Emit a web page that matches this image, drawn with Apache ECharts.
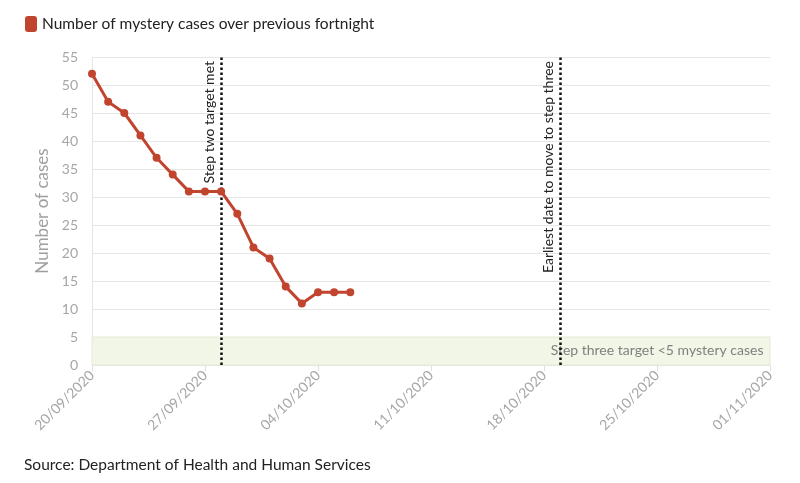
<!DOCTYPE html>
<html>
<head>
<meta charset="utf-8">
<script src="https://cdn.jsdelivr.net/npm/echarts@6/dist/echarts.min.js"></script>
<style>
  html, body { margin: 0; padding: 0; background: #fff; }
  #chart { width: 800px; height: 483px; }
</style>
</head>
<body>
<div id="chart"></div>
<script>
// day-by-day categories 20/09/2020 .. 01/11/2020
const startDate = new Date(2020, 8, 20)
const dayCount = 43
const dates = []
for (let i = 0; i < dayCount; i++) {
  const d = new Date(startDate.getFullYear(), startDate.getMonth(), startDate.getDate() + i)
  const dd = String(d.getDate()).padStart(2, '0')
  const mm = String(d.getMonth() + 1).padStart(2, '0')
  dates.push(dd + '/' + mm + '/' + d.getFullYear())
}

const seriesName = 'Number of mystery cases over previous fortnight'
const mysteryCases = [52, 47, 45, 41, 37, 34, 31, 31, 31, 27, 21, 19, 14, 11, 13, 13, 13]

const stepTwoDate = '28/09/2020'
const stepThreeDate = '19/10/2020'
const targetBand = [0, 5]

const yTicks = { min: 0, max: 55, interval: 5 }

const font = 'Lato, "Open Sans", sans-serif'
const red = '#c1442f'

const chart = echarts.init(document.getElementById('chart'))

chart.setOption({
  animation: false,
  textStyle: { fontFamily: font },
  legend: {
    data: [{ name: seriesName, icon: 'roundRect' }],
    left: 20,
    top: 11,
    itemWidth: 12,
    itemHeight: 16,
    itemGap: 6,
    textStyle: { fontSize: 15.5, color: '#222', fontFamily: font }
  },
  graphic: [
    {
      type: 'text',
      left: 24,
      top: 457,
      style: {
        text: 'Source: Department of Health and Human Services',
        fontSize: 15.5,
        fill: '#222',
        fontFamily: font
      }
    }
  ],
  grid: {
    left: 92,
    right: 30,
    top: 57,
    bottom: 118
  },
  xAxis: {
    type: 'category',
    data: dates,
    boundaryGap: false,
    axisLine: { lineStyle: { color: '#e6e6e6' } },
    axisTick: {
      interval: 6,
      length: 6,
      lineStyle: { color: '#e0e0e0' }
    },
    axisLabel: {
      interval: 6,
      rotate: 45,
      color: '#a6a6a6',
      fontSize: 14,
      margin: 8
    },
    splitLine: { show: false }
  },
  yAxis: {
    type: 'value',
    min: yTicks.min,
    max: yTicks.max,
    interval: yTicks.interval,
    name: 'Number of cases',
    nameLocation: 'middle',
    nameGap: 40,
    nameTextStyle: { color: '#a0a0a0', fontSize: 17 },
    axisLine: { show: true, lineStyle: { color: '#e6e6e6' } },
    axisTick: { show: false },
    axisLabel: { color: '#a6a6a6', fontSize: 14, margin: 14 },
    splitLine: { lineStyle: { color: '#e6e6e6' } }
  },
  series: [
    {
      name: seriesName,
      type: 'line',
      data: mysteryCases,
      color: red,
      symbol: 'circle',
      symbolSize: 8,
      lineStyle: { width: 3, color: red },
      itemStyle: { color: red },
      z: 5,
      markArea: {
        silent: true,
        itemStyle: { color: '#f1f6e6', borderColor: '#e4ead6', borderWidth: 1 },
        label: {
          show: true,
          position: 'insideRight',
          color: '#808080',
          fontSize: 14,
          fontFamily: font,
          offset: [-2, -1]
        },
        data: [[
          { name: 'Step three target <5 mystery cases', yAxis: targetBand[0] },
          { yAxis: targetBand[1] }
        ]]
      },
      markLine: {
        silent: true,
        symbol: ['none', 'none'],
        lineStyle: { color: '#111', type: 'dotted', width: 2.5 },
        label: {
          show: true,
          position: 'insideEndTop',
          color: '#222',
          fontSize: 14,
          fontFamily: font,
          distance: [4, 5]
        },
        data: [
          { xAxis: stepTwoDate, name: 'Step two target met', label: { formatter: '{b}' } },
          { xAxis: stepThreeDate, name: 'Earliest date to move to step three', label: { formatter: '{b}' } }
        ]
      }
    }
  ]
})
</script>
</body>
</html>
